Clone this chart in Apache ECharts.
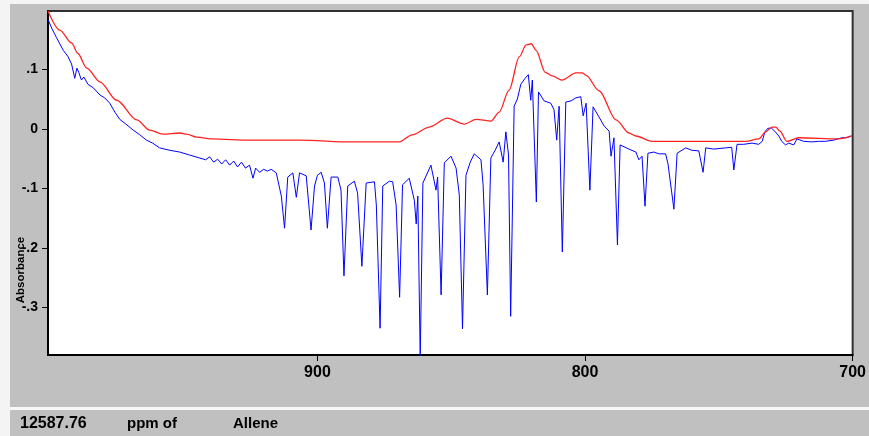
<!DOCTYPE html>
<html>
<head>
<meta charset="utf-8">
<script src="https://cdn.jsdelivr.net/npm/echarts@6/dist/echarts.min.js"></script>
<style>
html,body{margin:0;padding:0;background:#c0c0c0;}
#chart{width:869px;height:436px;}
</style>
</head>
<body>
<div id="chart"></div>
<script>
// x: wavenumber (cm-1), y: absorbance
const xTicks = [900, 800, 700];
const yTicks = [0.1, 0, -0.1, -0.2, -0.3];
const statusValue = '12587.76';
const statusUnit = 'ppm of';
const statusGas = 'Allene';
const yName = 'Absorbance';

const referenceSpectrum = [
  [1000.7,0.198],[996.3,0.166],[991.8,0.144],[989.6,0.127],[986.2,0.102],[981.3,0.079],
  [975.0,0.048],[967.5,0.015],[962.7,-0.002],[957.8,-0.009],[951.5,-0.007],[948.9,-0.009],
  [945.1,-0.014],[939.2,-0.017],[925.4,-0.019],[906.7,-0.019],[886.9,-0.022],[869.4,-0.022],
  [864.6,-0.010],[858.2,0.003],[851.5,0.018],[845.1,0.008],[840.7,0.016],[835.1,0.013],
  [832.1,0.028],[828.4,0.065],[824.6,0.121],[822.0,0.141],[820.1,0.143],[818.3,0.132],
  [814.9,0.095],[812.3,0.089],[808.6,0.082],[803.4,0.094],[801.1,0.094],[799.6,0.090],
  [794.8,0.064],[788.4,0.015],[783.6,-0.007],[781.0,-0.012],[775.0,-0.021],[757.5,-0.021],
  [739.9,-0.021],[735.1,-0.017],[732.5,-0.005],[730.2,0.003],[728.7,0.003],[727.2,-0.004],
  [724.6,-0.021],[720.1,-0.015],[705.2,-0.017],[700.4,-0.012]
];

const measuredSpectrum = [
  [1000.6,0.183],[999.3,0.169],[997.5,0.153],[995.0,0.132],[993.3,0.122],[991.9,0.109],
  [990.7,0.085],[989.9,0.102],[989.2,0.095],[988.2,0.082],[987.3,0.087],[985.8,0.075],
  [983.8,0.069],[981.3,0.057],[979.5,0.052],[977.6,0.043],[975.7,0.028],[973.9,0.016],
  [971.6,0.008],[968.9,-0.002],[966.4,-0.010],[963.9,-0.019],[961.6,-0.024],[959.0,-0.032],
  [955.2,-0.036],[951.5,-0.039],[947.8,-0.044],[944.0,-0.049],[941.8,-0.052],[940.3,-0.047],
  [938.8,-0.056],[937.3,-0.051],[935.8,-0.059],[934.3,-0.052],[932.8,-0.061],[931.3,-0.054],
  [929.9,-0.064],[928.4,-0.056],[926.9,-0.066],[925.4,-0.061],[924.1,-0.083],[923.1,-0.066],
  [921.6,-0.073],[920.1,-0.068],[918.7,-0.071],[917.3,-0.068],[915.4,-0.074],[913.5,-0.113],
  [912.3,-0.167],[911.1,-0.081],[909.2,-0.074],[907.9,-0.115],[906.7,-0.074],[904.2,-0.079],
  [902.4,-0.170],[901.1,-0.096],[900.0,-0.078],[898.6,-0.073],[897.4,-0.091],[896.3,-0.167],
  [894.9,-0.081],[892.4,-0.081],[891.2,-0.103],[890.1,-0.247],[888.7,-0.096],[886.2,-0.088],
  [885.0,-0.108],[883.4,-0.231],[881.8,-0.091],[878.7,-0.089],[878.0,-0.128],[876.6,-0.335],
  [875.6,-0.096],[873.1,-0.088],[871.9,-0.089],[870.6,-0.128],[869.3,-0.283],[868.2,-0.094],
  [865.7,-0.083],[863.8,-0.120],[863.1,-0.160],[862.5,-0.113],[861.6,-0.385],[860.6,-0.091],
  [857.6,-0.061],[855.7,-0.103],[855.1,-0.081],[853.8,-0.279],[852.6,-0.057],[850.1,-0.046],
  [848.2,-0.066],[847.0,-0.111],[845.8,-0.336],[844.5,-0.078],[842.9,-0.056],[841.4,-0.042],
  [838.9,-0.052],[838.1,-0.094],[836.5,-0.279],[835.2,-0.049],[833.6,-0.036],[832.1,-0.022],
  [830.6,-0.056],[829.6,-0.005],[828.6,-0.044],[827.8,-0.315],[826.5,0.038],[825.3,0.050],
  [824.0,0.075],[822.4,0.085],[821.2,0.091],[820.3,0.048],[819.7,0.082],[818.2,-0.123],
  [817.4,0.062],[815.3,0.047],[812.8,0.043],[811.6,0.032],[810.6,-0.019],[809.7,0.038],
  [808.5,-0.207],[807.2,0.045],[805.2,0.047],[803.5,0.052],[801.6,0.054],[800.7,0.022],
  [799.6,0.043],[798.2,-0.103],[797.0,0.037],[794.8,0.020],[792.9,0.005],[791.0,-0.004],
  [790.3,-0.046],[789.2,-0.015],[787.9,-0.195],[786.9,-0.027],[783.6,-0.034],[781.0,-0.039],
  [779.9,-0.052],[778.7,-0.046],[777.6,-0.130],[776.5,-0.041],[774.3,-0.039],[772.4,-0.042],
  [769.9,-0.042],[769.0,-0.059],[766.8,-0.135],[765.6,-0.041],[762.4,-0.032],[760.1,-0.036],
  [757.5,-0.037],[755.9,-0.073],[754.9,-0.032],[751.9,-0.034],[747.5,-0.032],[745.2,-0.031],
  [744.4,-0.069],[743.2,-0.026],[740.7,-0.026],[737.6,-0.024],[735.1,-0.026],[733.8,-0.021],
  [732.8,-0.005],[731.7,0.001],[730.3,0.001],[729.1,-0.004],[727.6,-0.012],[726.5,-0.021],
  [725.1,-0.027],[723.9,-0.024],[722.0,-0.027],[720.8,-0.017],[718.3,-0.021],[715.2,-0.022],
  [712.7,-0.021],[710.2,-0.021],[707.1,-0.019],[704.0,-0.015],[702.2,-0.015],[700.4,-0.012]
];

const chart = echarts.init(document.getElementById('chart'), null, {renderer: 'canvas'});

function yFmt(v) {
  if (Math.abs(v) < 1e-9) return '0';
  const s = '.' + Math.round(Math.abs(v) * 10);
  return v < 0 ? '-' + s : s;
}

chart.setOption({
  animation: false,
  backgroundColor: '#c0c0c0',
  grid: {
    left: 48, top: 11, width: 806, height: 344,
    show: true, backgroundColor: '#ffffff', borderColor: '#303030', borderWidth: 2
  },
  xAxis: {
    type: 'value', inverse: true, min: 700, max: 1000.7,
    axisLine: {show: true, onZero: false, lineStyle: {color: '#000', width: 2}},
    axisTick: {show: true, customValues: xTicks, length: 6, lineStyle: {color: '#000', width: 1}},
    axisLabel: {customValues: xTicks, margin: 10, color: '#000', fontSize: 16, fontWeight: 'bold',
      fontFamily: 'Liberation Sans, Arial, sans-serif'},
    splitLine: {show: false}
  },
  yAxis: {
    type: 'value', min: -0.38, max: 0.198,
    axisLine: {show: true, onZero: false, lineStyle: {color: '#000', width: 2}},
    axisTick: {show: true, customValues: yTicks, length: 6, lineStyle: {color: '#000', width: 1}},
    axisLabel: {customValues: yTicks, margin: 10, color: '#000', fontSize: 14, fontWeight: 'bold',
      fontFamily: 'Liberation Sans, Arial, sans-serif', formatter: yFmt},
    splitLine: {show: false}
  },
  graphic: [
    {type: 'rect', left: 0, top: 0, shape: {width: 10, height: 436}, style: {fill: '#f4f4f4'}},
    {type: 'rect', left: 0, top: 0, shape: {width: 869, height: 4}, style: {fill: '#f4f4f4'}},
    {type: 'rect', left: 10, top: 407, shape: {width: 859, height: 3}, style: {fill: '#f8f8f8'}},
    {type: 'text', x: 20.5, y: 270, rotation: Math.PI / 2,
      style: {text: yName, fill: '#000', font: 'bold 11.5px Liberation Sans, Arial, sans-serif',
        textAlign: 'center', textVerticalAlign: 'middle'}},
    {type: 'text', x: 20, y: 424,
      style: {text: statusValue, fill: '#000', font: 'bold 16px Liberation Sans, Arial, sans-serif',
        textAlign: 'left', textVerticalAlign: 'middle'}},
    {type: 'text', x: 127, y: 424,
      style: {text: statusUnit, fill: '#000', font: 'bold 15px Liberation Sans, Arial, sans-serif',
        textAlign: 'left', textVerticalAlign: 'middle'}},
    {type: 'text', x: 233, y: 424,
      style: {text: statusGas, fill: '#000', font: 'bold 15px Liberation Sans, Arial, sans-serif',
        textAlign: 'left', textVerticalAlign: 'middle'}}
  ],
  series: [
    {
      name: 'measured', type: 'line', data: measuredSpectrum, showSymbol: false,
      lineStyle: {color: '#0000ff', width: 1}, clip: true, z: 2
    },
    {
      name: 'reference', type: 'line', data: referenceSpectrum, showSymbol: false,
      smooth: 0.3, smoothMonotone: 'x',
      lineStyle: {color: '#ff2222', width: 1.3}, clip: true, z: 3
    }
  ]
});
</script>
</body>
</html>
